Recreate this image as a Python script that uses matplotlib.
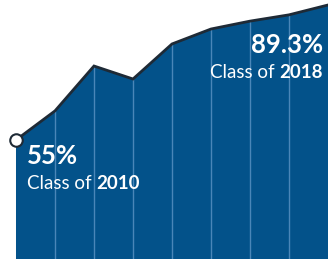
import matplotlib
matplotlib.use("Agg")
import matplotlib.pyplot as plt

years = [2010, 2011, 2012, 2013, 2014, 2015, 2016, 2017, 2018]
rates = [55.0, 62.4, 73.8, 70.5, 79.4, 83.2, 85.2, 86.8, 89.3]

first_value = "55%"
first_label = "Class of "
first_year = "2010"
last_value = "89.3%"
last_label = "Class of "
last_year = "2018"

fill_color = "#03528a"
grid_color = "#4a86b8"
line_color = "#1e2a36"

fig = plt.figure(figsize=(3.28, 2.59), dpi=100)
ax = fig.add_axes([0, 0, 1, 1])
ax.set_xlim(2009.59, 2018)
ax.set_ylim(24.77, 90.57)
ax.axis("off")

ax.fill_between(years, rates, 0, color=fill_color, lw=0, zorder=1)
ax.vlines(years[1:-1], 0, rates[1:-1], color=grid_color, lw=1, zorder=2)
ax.plot(years, rates, color=line_color, lw=2, zorder=3, solid_joinstyle="miter")
ax.plot(years[0], rates[0], "o", ms=9, mfc="white", mec=line_color, mew=1.5,
        zorder=4, clip_on=False)

font = "Lato"
big = 18.5
small = 13.5
fig.text(27 / 328, 1 - 164 / 259, first_value, color="white", fontsize=big,
         fontweight="bold", family=font, ha="left", va="baseline")
t = fig.text(27 / 328, 1 - 189 / 259, first_label, color="white", fontsize=small,
             family=font, ha="left", va="baseline")
fig.canvas.draw()
bb = t.get_window_extent()
fig.text(bb.x1 / 328, 1 - 189 / 259, first_year, color="white", fontsize=small,
         fontweight="bold", family=font, ha="left", va="baseline")

fig.text(323 / 328, 1 - 53 / 259, last_value, color="white", fontsize=big,
         fontweight="bold", family=font, ha="right", va="baseline")
t2 = fig.text(323 / 328, 1 - 78 / 259, last_year, color="white", fontsize=small,
              fontweight="bold", family=font, ha="right", va="baseline")
fig.canvas.draw()
bb2 = t2.get_window_extent()
fig.text(bb2.x0 / 328, 1 - 78 / 259, last_label, color="white", fontsize=small,
         family=font, ha="right", va="baseline")

fig.savefig("out.png", dpi=100)
